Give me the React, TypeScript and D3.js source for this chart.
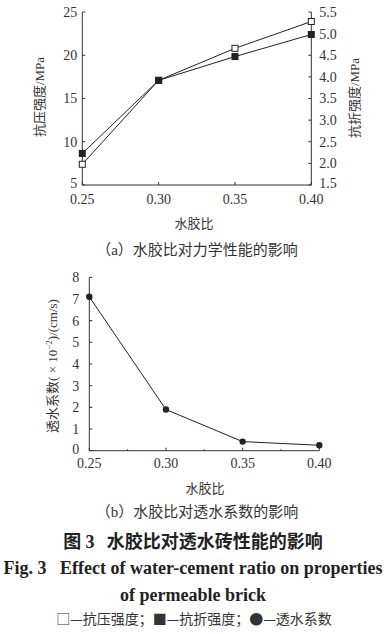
import React from "react";
import * as d3 from "d3";

const ratios = [0.25, 0.3, 0.35, 0.4];
const ratioLabels = ["0.25", "0.30", "0.35", "0.40"];
const compressive = [7.4, 17.1, 20.8, 23.9];
const flexural = [2.23, 3.92, 4.47, 4.98];
const permeability = [7.1, 1.9, 0.42, 0.25];
const leftTicks = [5, 10, 15, 20, 25];
const rightTicks = [1.5, 2.0, 2.5, 3.0, 3.5, 4.0, 4.5, 5.0, 5.5];
const permTicks = [0, 1, 2, 3, 4, 5, 6, 7, 8];
const minorX = [0.275, 0.325, 0.375];

const SERIF = "'Liberation Serif', 'Times New Roman', serif";
const CJK = "'Noto Sans CJK SC', sans-serif";
const AX = "#333";

export default function App() {
  const xa = d3.scaleLinear().domain([0.25, 0.4]).range([82.3, 311.3]);
  const yl = d3.scaleLinear().domain([5, 25]).range([185, 12]);
  const yr = d3.scaleLinear().domain([1.5, 5.5]).range([185, 12]);
  const xb = d3.scaleLinear().domain([0.25, 0.4]).range([89.3, 319.3]);
  const yb = d3.scaleLinear().domain([0, 8]).range([450.7, 277.3]);

  const lineA = d3.line<number>().x((_, i) => xa(ratios[i])).y((d) => yl(d));
  const lineR = d3.line<number>().x((_, i) => xa(ratios[i])).y((d) => yr(d));
  const lineB = d3.line<number>().x((_, i) => xb(ratios[i])).y((d) => yb(d));

  return (
    <svg width={386} height={634} style={{ position: "absolute", left: 0, top: 0, background: "#fff" }}>
      {/* Chart (a) */}
      <g stroke={AX} strokeWidth={1} fill="none">
        <line x1={xa(0.25)} x2={xa(0.25)} y1={yl(25)} y2={yl(5)} />
        <line x1={xa(0.4)} x2={xa(0.4)} y1={yr(5.5)} y2={yr(1.5)} />
        <line x1={xa(0.25)} x2={xa(0.4)} y1={yl(5)} y2={yl(5)} />
        {leftTicks.map((t) => (
          <line key={"l" + t} x1={xa(0.25)} x2={xa(0.25) + 3} y1={yl(t)} y2={yl(t)} />
        ))}
        {rightTicks.map((t) => (
          <line key={"r" + t} x1={xa(0.4)} x2={xa(0.4) - 3} y1={yr(t)} y2={yr(t)} />
        ))}
        {ratios.map((r) => (
          <line key={"x" + r} x1={xa(r)} x2={xa(r)} y1={yl(5)} y2={yl(5) - 3} />
        ))}
      </g>
      <g fontFamily={SERIF} fontSize={14} fill="#333">
        {leftTicks.map((t) => (
          <text key={t} x={xa(0.25) - 5} y={yl(t) - (t === 5 ? 2 : 0)} dy="0.35em" textAnchor="end">{t}</text>
        ))}
        {rightTicks.map((t) => (
          <text key={t} x={xa(0.4) + 8} y={yr(t) - (t === 1.5 ? 2 : 0)} dy="0.35em" textAnchor="start">{t.toFixed(1)}</text>
        ))}
        {ratios.map((r, i) => (
          <text key={r} x={xa(r)} y={204} textAnchor="middle">{ratioLabels[i]}</text>
        ))}
      </g>
      <path d={lineA(compressive) || ""} fill="none" stroke="#222" strokeWidth={1} />
      <path d={lineR(flexural) || ""} fill="none" stroke="#222" strokeWidth={1} />
      {compressive.map((v, i) => (
        <rect key={"c" + i} x={xa(ratios[i]) - 3} y={yl(v) - 3} width={6} height={6} fill="#fff" stroke="#222" strokeWidth={1} />
      ))}
      {flexural.map((v, i) => (
        <rect key={"f" + i} x={xa(ratios[i]) - 3.5} y={yr(v) - 3.5} width={7} height={7} fill="#222" />
      ))}
      <text transform="translate(44,97) rotate(-90)" textAnchor="middle" fontFamily={CJK} fontSize={13} fill="#333">
        抗压强度<tspan fontFamily={SERIF}>/MPa</tspan>
      </text>
      <text transform="translate(359,98) rotate(-90)" textAnchor="middle" fontFamily={CJK} fontSize={13} fill="#333">
        抗折强度<tspan fontFamily={SERIF}>/MPa</tspan>
      </text>
      <text x={194} y={228} textAnchor="middle" fontFamily={CJK} fontSize={13} fill="#333">水胶比</text>
      <text x={197} y={255} textAnchor="middle" fontFamily={CJK} fontSize={15} fill="#333">（<tspan fontFamily={SERIF}>a</tspan>）水胶比对力学性能的影响</text>

      {/* Chart (b) */}
      <g stroke={AX} strokeWidth={1} fill="none">
        <line x1={xb(0.25)} x2={xb(0.25)} y1={yb(8)} y2={yb(0)} />
        <line x1={xb(0.25)} x2={xb(0.4)} y1={yb(0)} y2={yb(0)} />
        {permTicks.map((t) => (
          <line key={"p" + t} x1={xb(0.25)} x2={xb(0.25) + 3} y1={yb(t)} y2={yb(t)} />
        ))}
        {ratios.map((r) => (
          <line key={"bx" + r} x1={xb(r)} x2={xb(r)} y1={yb(0)} y2={yb(0) - 3} />
        ))}
        {minorX.map((r) => (
          <line key={"mx" + r} x1={xb(r)} x2={xb(r)} y1={yb(0)} y2={yb(0) - 1.5} />
        ))}
      </g>
      <g fontFamily={SERIF} fontSize={14} fill="#333">
        {permTicks.map((t) => (
          <text key={t} x={xb(0.25) - 10} y={yb(t) - (t === 0 ? 2 : 0)} dy="0.35em" textAnchor="end">{t}</text>
        ))}
        {ratios.map((r, i) => (
          <text key={r} x={xb(r)} y={468} textAnchor="middle">{ratioLabels[i]}</text>
        ))}
      </g>
      <path d={lineB(permeability) || ""} fill="none" stroke="#222" strokeWidth={1} />
      {permeability.map((v, i) => (
        <circle key={"pc" + i} cx={xb(ratios[i])} cy={yb(v)} r={3.2} fill="#222" />
      ))}
      <text transform="translate(57,366) rotate(-90)" textAnchor="middle" fontFamily={CJK} fontSize={13} fill="#333">
        透水系数<tspan fontFamily={SERIF}>( × 10<tspan fontSize={9} dy={-5}>−2</tspan><tspan dy={5}>)/(cm/s)</tspan></tspan>
      </text>
      <text x={205} y={493} textAnchor="middle" fontFamily={CJK} fontSize={13} fill="#333">水胶比</text>
      <text x={197} y={517} textAnchor="middle" fontFamily={CJK} fontSize={15} fill="#333">（<tspan fontFamily={SERIF}>b</tspan>）水胶比对透水系数的影响</text>

      {/* Captions */}
      <text x={193} y={548} textAnchor="middle" fontFamily={CJK} fontSize={18} fontWeight="bold" fill="#222" xmlSpace="preserve">图 <tspan fontFamily={SERIF}>3</tspan>   水胶比对透水砖性能的影响</text>
      <text x={193} y={574} textAnchor="middle" fontFamily={SERIF} fontSize={18} fontWeight="bold" fill="#222" xmlSpace="preserve">Fig. 3   Effect of water-cement ratio on properties</text>
      <text x={193} y={601} textAnchor="middle" fontFamily={SERIF} fontSize={18} fontWeight="bold" fill="#222">of permeable brick</text>
      <text x={194} y={624} textAnchor="middle" fontFamily={CJK} fontSize={14} fill="#333">□—抗压强度；■—抗折强度；●—透水系数</text>
    </svg>
  );
}
